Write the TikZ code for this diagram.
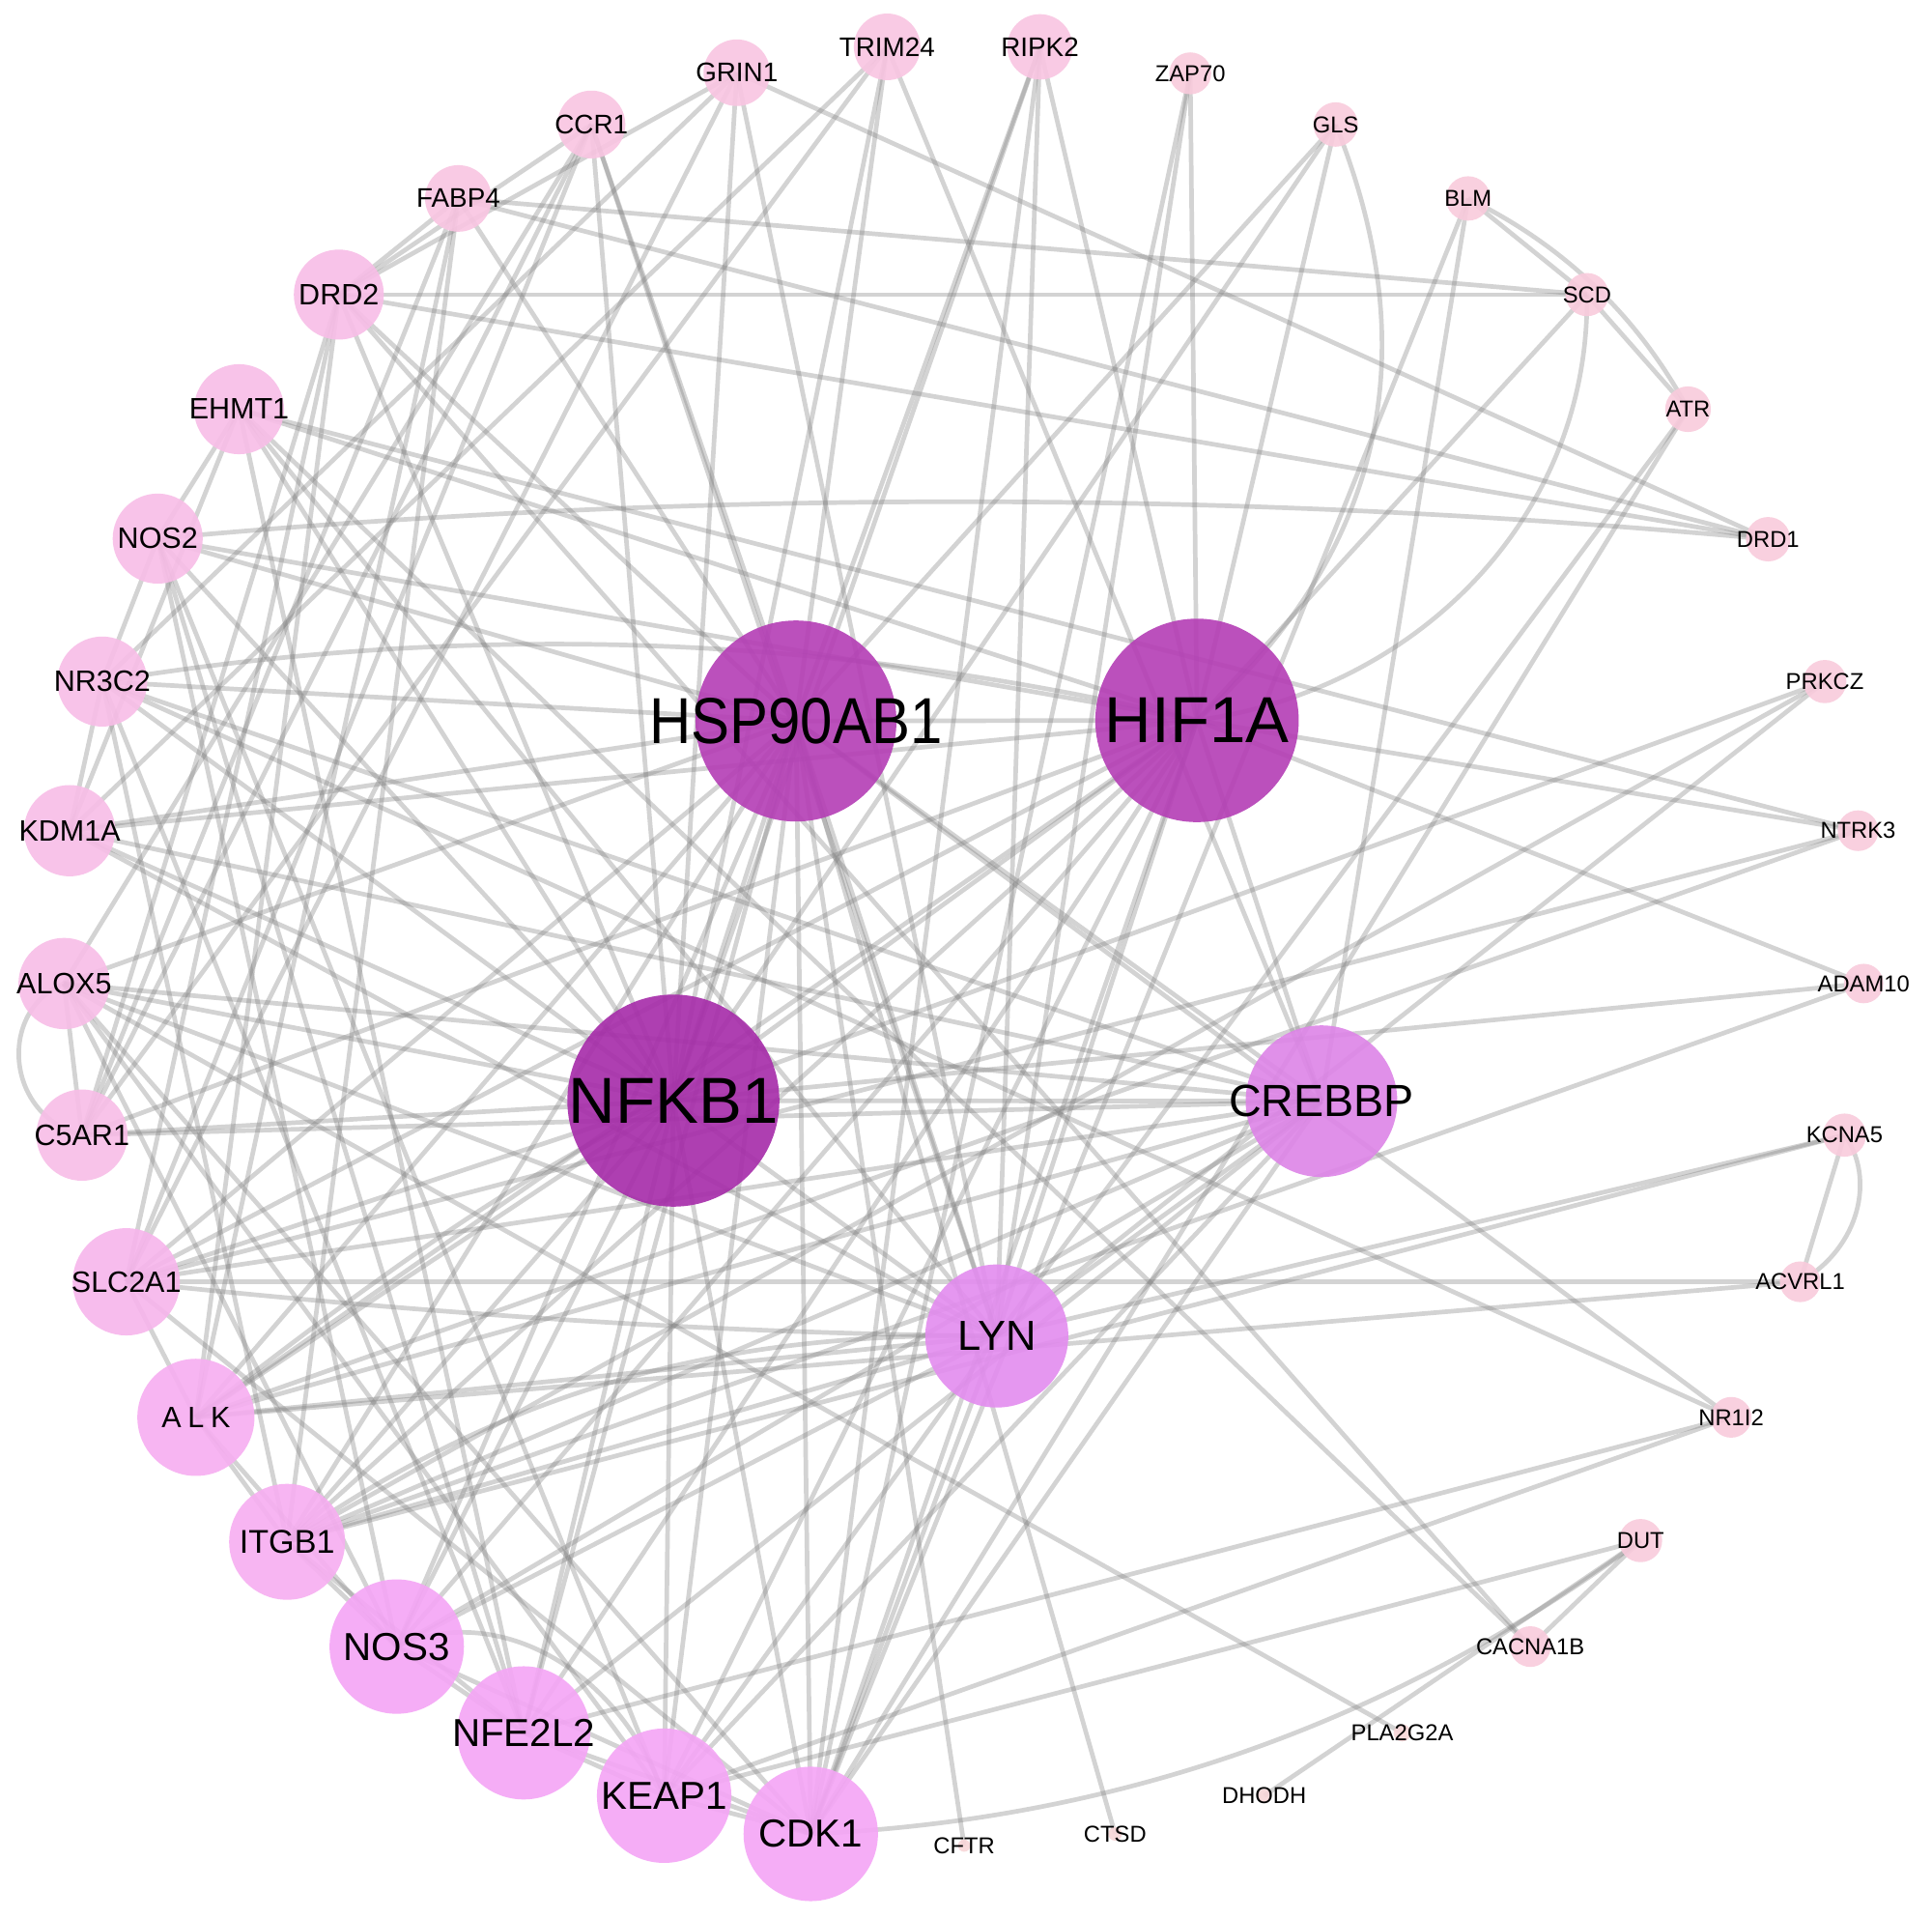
\documentclass[tikz,border=0pt]{standalone}
\usepackage{fontspec}
\setmainfont{Liberation Sans}
\usepackage{graphicx}
\pgfdeclarelayer{bg}
\pgfsetlayers{bg,main}
\definecolor{cnfk}{HTML}{A62BA9}
\definecolor{chub}{HTML}{B43DB5}
\definecolor{ccre}{HTML}{DD84E7}
\definecolor{clyn}{HTML}{E38CEF}
\definecolor{ctone}{HTML}{F5A5F6}
\definecolor{cttwo}{HTML}{F7AEF1}
\definecolor{ctthree}{HTML}{F7B5EC}
\definecolor{ctfour}{HTML}{F8BDE7}
\definecolor{ctfive}{HTML}{F9C5E2}
\definecolor{ctsix}{HTML}{F9CBDC}
\definecolor{ctseven}{HTML}{F8D6D8}
\newcommand{\mkgene}[7]{\node[nd, fill=#5, minimum size=#4cm, label={[#6]center:#7}] (#1) at (#2,#3) {};}
\begin{document}
\begin{tikzpicture}[x=0.01cm, y=-0.01cm,
  nd/.style={circle, draw=none, inner sep=0pt, fill opacity=0.9, text opacity=1},
  ed/.style={draw=gray, line width=1.05pt, draw opacity=0.34},
  fhub/.style={font=\fontsize{15pt}{16pt}\selectfont},
  fcre/.style={font=\fontsize{10.4pt}{11pt}\selectfont},
  flyn/.style={font=\fontsize{9.7pt}{10pt}\selectfont},
  fbig/.style={font=\fontsize{9pt}{10pt}\selectfont},
  fitg/.style={font=\fontsize{7.6pt}{8pt}\selectfont},
  fmid/.style={font=\fontsize{6.8pt}{7pt}\selectfont},
  fsm/.style={font=\fontsize{6.2pt}{7pt}\selectfont},
  fxs/.style={font=\fontsize{5.3pt}{6pt}\selectfont}]
\useasboundingbox (0,0) rectangle (1568,1556);
\begin{pgfonlayer}{bg}
\fill[white] (0,0) rectangle (1568,1556);
\end{pgfonlayer}
% nodes
\mkgene{hsp}{646}{585}{1.63}{chub}{fhub}{{\scalebox{0.89}[1]{HSP90AB1}}}
\mkgene{hif}{971.5}{584.5}{1.65}{chub}{fhub}{HIF1A}
\mkgene{nfk}{546.5}{893}{1.72}{cnfk}{fhub}{NFKB1}
\mkgene{cre}{1072.5}{893.5}{1.23}{ccre}{fcre}{CREBBP}
\mkgene{lyn}{809}{1084}{1.16}{clyn}{flyn}{LYN}
\mkgene{cdk}{658}{1488}{1.09}{ctone}{fbig}{CDK1}
\mkgene{keap}{539}{1457}{1.09}{ctone}{fbig}{KEAP1}
\mkgene{nfe}{425}{1406}{1.08}{ctone}{fbig}{NFE2L2}
\mkgene{nos3}{322}{1336}{1.09}{ctone}{fbig}{NOS3}
\mkgene{itg}{233}{1251}{0.94}{cttwo}{fitg}{ITGB1}
\mkgene{alk}{159}{1150}{0.95}{cttwo}{fmid}{A\kern1.5pt L\kern1.5pt K}
\mkgene{slc}{102.5}{1040}{0.87}{ctthree}{fmid}{SLC2A1}
\mkgene{c5ar1}{66.5}{921}{0.74}{ctfour}{fmid}{C5AR1}
\mkgene{alox}{52}{798}{0.74}{ctfour}{fmid}{ALOX5}
\mkgene{kdm}{56.5}{674}{0.74}{ctfour}{fmid}{KDM1A}
\mkgene{nr3}{83}{553}{0.73}{ctfour}{fmid}{NR3C2}
\mkgene{nos2}{128}{437}{0.73}{ctfour}{fmid}{NOS2}
\mkgene{ehmt}{194}{332}{0.73}{ctfour}{fmid}{EHMT1}
\mkgene{drd2}{275}{239}{0.73}{ctfour}{fmid}{DRD2}
\mkgene{fabp}{372}{161}{0.54}{ctfive}{fsm}{FABP4}
\mkgene{ccr}{480}{101}{0.55}{ctfive}{fsm}{CCR1}
\mkgene{grin}{598}{59}{0.54}{ctfive}{fsm}{GRIN1}
\mkgene{trim}{720}{38}{0.54}{ctfive}{fsm}{TRIM24}
\mkgene{ripk}{844}{38}{0.53}{ctfive}{fsm}{RIPK2}
\mkgene{zap}{966}{59.5}{0.34}{ctsix}{fxs}{ZAP70}
\mkgene{gls}{1084}{101}{0.36}{ctsix}{fxs}{GLS}
\mkgene{blm}{1191.5}{161}{0.36}{ctsix}{fxs}{BLM}
\mkgene{scd}{1288}{239}{0.35}{ctsix}{fxs}{SCD}
\mkgene{atr}{1370}{332}{0.37}{ctsix}{fxs}{ATR}
\mkgene{drd1}{1435}{437.5}{0.36}{ctsix}{fxs}{DRD1}
\mkgene{prkcz}{1481}{553}{0.35}{ctsix}{fxs}{PRKCZ}
\mkgene{ntrk}{1508}{674}{0.33}{ctsix}{fxs}{NTRK3}
\mkgene{adam}{1512.5}{798}{0.32}{ctsix}{fxs}{ADAM10}
\mkgene{kcna}{1497}{921}{0.35}{ctsix}{fxs}{KCNA5}
\mkgene{acvr}{1461}{1040}{0.33}{ctsix}{fxs}{ACVRL1}
\mkgene{nrii}{1405}{1150}{0.33}{ctsix}{fxs}{NR1I2}
\mkgene{dut}{1331.5}{1250}{0.35}{ctsix}{fxs}{DUT}
\mkgene{cacn}{1242}{1336}{0.33}{ctsix}{fxs}{CACNA1B}
\mkgene{pla}{1138}{1406}{0.14}{ctseven}{fxs}{PLA2G2A}
\mkgene{dhodh}{1026}{1457}{0.11}{ctseven}{fxs}{DHODH}
\mkgene{ctsd}{905}{1488}{0.11}{ctseven}{fxs}{CTSD}
\mkgene{cftr}{782.5}{1497.5}{0.10}{ctseven}{fxs}{CFTR}
% edges
\begin{pgfonlayer}{bg}
\foreach \a/\b in {hsp/hif, hsp/nfk, hsp/cre, hsp/lyn, hsp/cdk, hsp/keap, hsp/nfe, hsp/nos3, hsp/itg, hsp/alk, hsp/slc,
  hif/nfk, hif/cre, hif/lyn, hif/cdk, hif/keap, hif/nfe, hif/nos3, hif/itg, hif/alk, hif/slc,
  nfk/cre, nfk/lyn, nfk/cdk, nfk/keap, nfk/nfe, nfk/nos3, nfk/itg, nfk/alk, nfk/slc,
  cre/lyn, cre/cdk, cre/nfe, cre/itg, cre/alk, cre/keap, cre/nos3, cre/slc,
  lyn/cdk, lyn/itg, lyn/alk, lyn/nos3, lyn/keap,
  cdk/keap, cdk/nfe, cdk/nos3,
  keap/nfe, nfe/nos3, nos3/itg, itg/alk, alk/slc, nos3/alk, itg/nfe,
  alox/c5ar1, kdm/nr3, nos2/nr3, ehmt/nos2, ehmt/kdm,
  blm/scd, scd/atr, kcna/acvr, dut/dhodh, dut/keap, dut/cacn, cacn/drd2, cacn/ehmt, pla/alox, ctsd/hsp, cftr/hsp,
  nrii/nr3, nrii/hsp, nrii/nfe, nrii/keap, acvr/slc, acvr/alk, kcna/lyn, kcna/itg,
  adam/hif, adam/nfk, adam/itg, ntrk/hif, ntrk/ehmt, ntrk/slc, ntrk/alk, prkcz/nfk, prkcz/itg, prkcz/lyn,
  drd1/drd2, drd1/grin, drd1/fabp, atr/cdk, atr/lyn, scd/fabp, scd/drd2, scd/hif, blm/cdk, blm/cre,
  gls/hif, gls/hsp, gls/nfk, zap/lyn, zap/hif, zap/cdk,
  ripk/hsp, ripk/nfk, ripk/lyn, ripk/hif, ripk/cdk,
  trim/kdm, trim/hsp, trim/cre, trim/c5ar1, trim/nfk,
  grin/nr3, grin/slc, grin/lyn, grin/drd2, grin/nfk,
  ccr/c5ar1, ccr/alox, ccr/slc, ccr/nfk, ccr/lyn, ccr/hsp, ccr/drd2,
  fabp/hsp, fabp/alk, fabp/c5ar1, fabp/drd2, fabp/itg,
  drd2/c5ar1, drd2/hsp, drd2/alk, drd2/slc, drd2/nfk,
  ehmt/nfk, ehmt/nfe, ehmt/hif, ehmt/lyn,
  nos2/hif, nos2/hsp, nos2/nfk, nos2/nos3, nos2/keap, nos2/nfe,
  nr3/hsp, nr3/cre, nr3/itg, nr3/nfe, nr3/nfk,
  kdm/hsp, kdm/hif, kdm/cre, kdm/nfk, kdm/lyn,
  alox/nfk, alox/lyn, alox/keap, alox/hsp, alox/cre, alox/cdk, alox/nos3,
  c5ar1/nfk, c5ar1/hif, c5ar1/cre, slc/cdk}
  \draw[ed] (\a.center) -- (\b.center);
% curved edges
\draw[ed] (alox.center) .. controls (-2,820) and (4,905) .. (c5ar1.center);
\draw[ed] (kcna.center) .. controls (1522,955) and (1510,1012) .. (acvr.center);
\draw[ed] (blm.center) .. controls (1269,199) and (1329,256) .. (atr.center);
\draw[ed] (gls.center) .. controls (1159,288) and (1122,450) .. (hif.center);
\draw[ed] (scd.center) .. controls (1290,420) and (1150,560) .. (hif.center);
\draw[ed] (cdk.center) .. controls (906,1477) and (1131,1398) .. (dut.center);
\draw[ed] (slc.center) .. controls (338,1065) and (574,1082) .. (lyn.center);
\draw[ed] (nos3.center) .. controls (400,1300) and (500,1350) .. (keap.center);
\draw[ed] (nos2.center) .. controls (564,397) and (999,397) .. (drd1.center);
\draw[ed] (nr3.center) .. controls (379,504) and (675,514) .. (hif.center);
\draw[ed] (alk.center) .. controls (350,1000) and (450,940) .. (nfk.center);
\draw[ed] (itg.center) .. controls (420,1120) and (600,1080) .. (lyn.center);
\end{pgfonlayer}
\end{tikzpicture}
\end{document}
